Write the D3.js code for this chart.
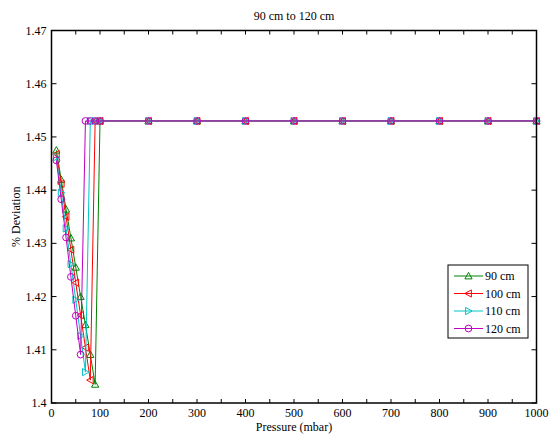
<!DOCTYPE html>
<html>
<head>
<meta charset="utf-8">
<script src="https://cdn.jsdelivr.net/npm/d3@7"></script>
<style>
  body { margin: 0; background: #fff; }
  svg text { font-family: 'Liberation Serif', 'Times New Roman', Times, 'DejaVu Serif', serif; fill: #000; }
</style>
</head>
<body>
<svg id="chart" width="551" height="434"></svg>
<script>
// pressure steps (mbar)
var lowP = [10, 20, 30, 40, 50, 60, 70, 80, 90];
var highP = [100, 200, 300, 400, 500, 600, 700, 800, 900, 1000];
var plateau = 1.453;

// descending parts
var dev90 = [1.4475, 1.4420, 1.4364, 1.4310, 1.4255, 1.4200, 1.4147, 1.4091, 1.4035];
var dev100 = [1.4468, 1.4412, 1.4350, 1.4288, 1.4226, 1.4165, 1.4104, 1.4043];
var dev110 = [1.4462, 1.4395, 1.4328, 1.4261, 1.4194, 1.4126, 1.4058];
var dev120 = [1.4456, 1.4383, 1.4311, 1.4237, 1.4164, 1.4091];

var seriesNames = ["90 cm", "100 cm", "110 cm", "120 cm"];
var seriesColors = ["#008000", "#ff0000", "#00c4c4", "#c000c0"];
var seriesMarkers = ["up", "left", "right", "circle"];
var seriesLow = [dev90, dev100, dev110, dev120];

var xTicks = d3.range(0, 1001, 100);
var yTicks = [1.40, 1.41, 1.42, 1.43, 1.44, 1.45, 1.46, 1.47];

var margin = {left: 51.5, right: 14.5, top: 30.5, bottom: 31};
var W = 551, H = 434;
var FONT = "'Liberation Serif', 'Times New Roman', Times, 'DejaVu Serif', serif";

var svg = d3.select("#chart");
var x = d3.scaleLinear().domain([0, 1000]).range([margin.left, W - margin.right]);
var y = d3.scaleLinear().domain([1.40, 1.47]).range([H - margin.bottom, margin.top]);

// build series: low values then jump to plateau
var series = seriesNames.map(function (name, i) {
    var pts = seriesLow[i].map(function (v, k) { return {p: lowP[k], v: v}; });
    var n = pts.length;
    lowP.slice(n).concat(highP).forEach(function (p) { pts.push({p: p, v: plateau}); });
    return {name: name, color: seriesColors[i], marker: seriesMarkers[i], pts: pts};
});

function markerPath(type) {
    var s = 3.6;
    if (type === "up") return "M0," + (-s) + "L" + s + "," + s * 0.8 + "L" + (-s) + "," + s * 0.8 + "Z";
    if (type === "left") return "M" + (-s) + ",0L" + s * 0.8 + "," + (-s) + "L" + s * 0.8 + "," + s + "Z";
    if (type === "right") return "M" + s + ",0L" + (-s * 0.8) + "," + (-s) + "L" + (-s * 0.8) + "," + s + "Z";
    return d3.symbol().type(d3.symbolCircle).size(36)();
}

var line = d3.line().x(function (d) { return x(d.p); }).y(function (d) { return y(d.v); });

var plot = svg.append("g");
series.forEach(function (s) {
    plot.append("path").attr("d", line(s.pts))
        .attr("fill", "none").attr("stroke", s.color).attr("stroke-width", 1);
    plot.selectAll(null).data(s.pts).join("path")
        .attr("transform", function (d) { return "translate(" + x(d.p) + "," + y(d.v) + ")"; })
        .attr("d", markerPath(s.marker))
        .attr("fill", "none").attr("stroke", s.color).attr("stroke-width", 1);
});

// axes box
var x0 = x(0), x1 = x(1000), y0 = y(1.40), y1 = y(1.47);
svg.append("rect").attr("x", x0).attr("y", y1).attr("width", x1 - x0).attr("height", y0 - y1)
    .attr("fill", "none").attr("stroke", "#000").attr("stroke-width", 1.5);

// ticks, inward, on all four sides
var tk = svg.append("g").attr("stroke", "#000").attr("stroke-width", 1);
d3.range(0, 1001, 50).forEach(function (p) {
    tk.append("line").attr("x1", x(p)).attr("x2", x(p)).attr("y1", y0).attr("y2", y0 - 4);
    tk.append("line").attr("x1", x(p)).attr("x2", x(p)).attr("y1", y1).attr("y2", y1 + 4);
});
yTicks.forEach(function (v) {
    tk.append("line").attr("x1", x0).attr("x2", x0 + 5).attr("y1", y(v)).attr("y2", y(v));
    tk.append("line").attr("x1", x1).attr("x2", x1 - 5).attr("y1", y(v)).attr("y2", y(v));
});

svg.selectAll(".xl").data(xTicks).join("text")
    .attr("x", function (d) { return x(d); }).attr("y", y0 + 14)
    .attr("text-anchor", "middle").attr("font-family", FONT).attr("font-size", 12)
    .text(function (d) { return d; });
svg.selectAll(".yl").data(yTicks).join("text")
    .attr("x", x0 - 5).attr("y", function (d) { return y(d) + 4; })
    .attr("text-anchor", "end").attr("font-family", FONT).attr("font-size", 12)
    .text(function (d) { return d3.format("")(+d.toFixed(2)); });

svg.append("text").attr("x", (x0 + x1) / 2).attr("y", 431).attr("font-family", FONT)
    .attr("text-anchor", "middle").attr("font-size", 12).text("Pressure (mbar)");
svg.append("text").attr("transform", "translate(20," + (y0 + y1) / 2 + ") rotate(-90)")
    .attr("font-family", FONT)
    .attr("text-anchor", "middle").attr("font-size", 12).text("% Deviation");
svg.append("text").attr("x", (x0 + x1) / 2).attr("y", 20).attr("font-family", FONT)
    .attr("text-anchor", "middle").attr("font-size", 12).text("90 cm to 120 cm");

// legend
var lg = svg.append("g").attr("transform", "translate(448,265)");
lg.append("rect").attr("width", 80).attr("height", 73)
    .attr("fill", "#fff").attr("stroke", "#000").attr("stroke-width", 1);
series.forEach(function (s, i) {
    var yy = 11 + i * 17.5;
    lg.append("line").attr("x1", 6).attr("x2", 35).attr("y1", yy).attr("y2", yy)
        .attr("stroke", s.color).attr("stroke-width", 1);
    lg.append("path").attr("transform", "translate(20.5," + yy + ")").attr("d", markerPath(s.marker))
        .attr("fill", "none").attr("stroke", s.color);
    lg.append("text").attr("x", 37).attr("y", yy + 4).attr("font-family", FONT)
        .attr("font-size", 12).text(s.name);
});
</script>
</body>
</html>
